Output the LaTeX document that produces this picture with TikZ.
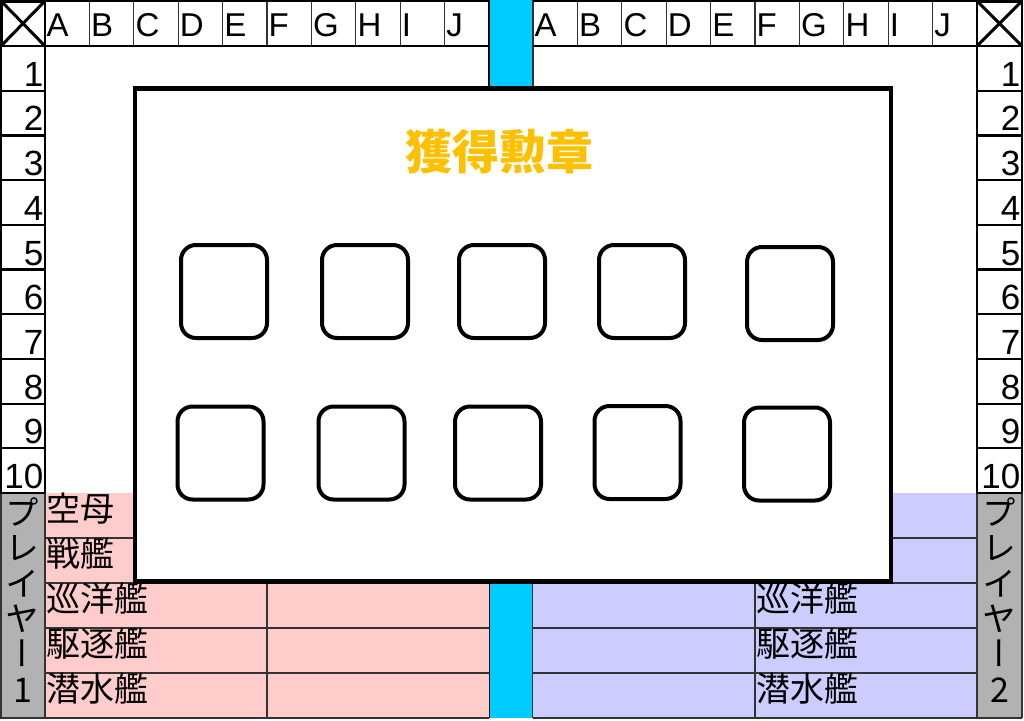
\documentclass[tikz,border=0pt]{standalone}
\usepackage{fontspec}
\setmainfont{Liberation Sans}
\newfontfamily\cjk{Noto Sans CJK JP}
\newfontfamily\cjkv[RawFeature=+vert]{Noto Sans CJK JP}
\definecolor{stripc}{HTML}{00CCFF}
\definecolor{pinkc}{HTML}{FFCCCC}
\definecolor{bluec}{HTML}{CCCCFF}
\definecolor{grayc}{HTML}{B2B2B2}
\definecolor{goldc}{HTML}{FFC000}
\tikzset{
  hdr/.style={inner sep=0pt, font=\fontsize{33}{33}\selectfont},
  numlbl/.style={inner sep=0pt, font=\fontsize{35}{35}\selectfont},
  shiplbl/.style={inner sep=0pt, anchor=base west, font=\cjk\fontsize{34}{34}\selectfont},
  vchar/.style={inner sep=0pt, font=\cjkv\fontsize{34}{34}\selectfont},
  thin/.style={line width=1.2pt, draw=black!80},
  thick/.style={line width=2.5pt, draw=black},
  medal/.style={draw=black, line width=4pt, rounded corners=15pt, minimum width=86pt, minimum height=93pt, inner sep=0pt},
}
\begin{document}
\begin{tikzpicture}[x=1pt,y=-1pt]
\useasboundingbox (0,0) rectangle (1024,720);
\fill[white] (0,0) rectangle (1024,720);
% centre strip
\fill[stripc] (489,0) rectangle (533,718);
\draw[thin,draw=black] (489,0) -- (489,718);
\draw[thin] (533,0) -- (533,718);
% player areas
\fill[pinkc] (45,493) rectangle (489,718);
\fill[bluec] (533,493) rectangle (977,718);
\fill[grayc] (0,493) rectangle (45,718);
\fill[grayc] (977,493) rectangle (1022,718);
\foreach \yy in {538,583,628,673,718} {
  \draw[thin] (45,\yy) -- (489,\yy);
  \draw[thin] (533,\yy) -- (977,\yy);
}
\draw[thin] (267,493) -- (267,718);
\draw[thin] (755,493) -- (755,718);
\draw[thin] (45,493) -- (45,718);
\draw[thin] (977,493) -- (977,718);
\draw[thin] (1022,493) -- (1022,718);
\draw[thin] (1,493) -- (1,718);
\draw[thin] (0,718) -- (45,718);
\draw[thin] (977,718) -- (1022,718);
% header letters
\foreach \L [count=\i from 0] in {A,B,C,D,E,F,G,H,I,J} {
  \pgfmathsetmacro{\xl}{45+44.4*\i}
  \pgfmathsetmacro{\xr}{533+44.4*\i}
  \node[hdr, anchor=base west] (LL\i) at (\xl+1.5,36) {\L};
  \node[hdr, anchor=base west] (RL\i) at (\xr+1.5,36) {\L};
  \draw[thin] (\xl,0) -- (\xl,46);
  \draw[thin] (\xr,0) -- (\xr,46);
}
\draw[line width=2pt] (0,1) -- (489,1);
\draw[line width=2pt] (533,1) -- (1023,1);
\draw[thick] (0,46) -- (489,46);
\draw[thick] (533,46) -- (1023,46);
% corner cells
\draw[thick] (1.25,1.25) rectangle (45,46);
\draw[line width=3pt] (2,2) -- (44,45) (44,2) -- (2,45);
\draw[thick] (977,1.25) rectangle (1022,46);
\draw[line width=3pt] (978,2) -- (1021,45) (1021,2) -- (978,45);
% row numbers
\foreach \n in {1,...,10} {
  \pgfmathsetmacro{\yb}{46+44.7*\n}
  \node[numlbl, anchor=base east] (LN\n) at (43.5,\yb-4.5) {\n};
  \node[numlbl, anchor=base east] (RN\n) at (1020.5,\yb-4.5) {\n};
  \draw[line width=2.2pt] (0,\yb) -- (45,\yb);
  \draw[line width=2.2pt] (977,\yb) -- (1022,\yb);
}
\draw[line width=2pt] (1,46) -- (1,493);
\draw[thick] (45,46) -- (45,493);
\draw[thick] (977,46) -- (977,493);
\draw[line width=2pt] (1022,46) -- (1022,493);
% ship labels
\node[shiplbl] (s1) at (46,521) {空母};
\node[shiplbl] (s2) at (46,566) {戦艦};
\node[shiplbl] (s3) at (46,611) {巡洋艦};
\node[shiplbl] (s4) at (46,656) {駆逐艦};
\node[shiplbl] (s5) at (46,701) {潜水艦};
\node[shiplbl] (t3) at (756,611) {巡洋艦};
\node[shiplbl] (t4) at (756,656) {駆逐艦};
\node[shiplbl] (t5) at (756,701) {潜水艦};
% player names
\foreach \c/\yy [count=\k] in {プ/512,レ/548,イ/584,ヤ/619,ー/653,1/690} {
  \node[vchar] (pa\k) at (22.5,\yy) {\c};
  \node[vchar] (pb\k) at (999.5,\yy) {\ifnum\k=6 2\else\c\fi};
}
% overlay panel
\draw[line width=4.5pt, fill=white] (135,88.5) rectangle (891,581.5);
\node[inner sep=0pt, text=goldc, font=\cjk\bfseries\fontsize{47}{47}\selectfont] (title) at (499,152) {獲得勲章};
\foreach \xx/\yy [count=\m] in {224/291.5,365/291.5,502/291.5,642/291.5,790/293.5,
  220.5/453,361.5/453,498/453,637.5/452.5,787/454} {
  \node[medal] (m\m) at (\xx,\yy) {};
}
\end{tikzpicture}
\end{document}
